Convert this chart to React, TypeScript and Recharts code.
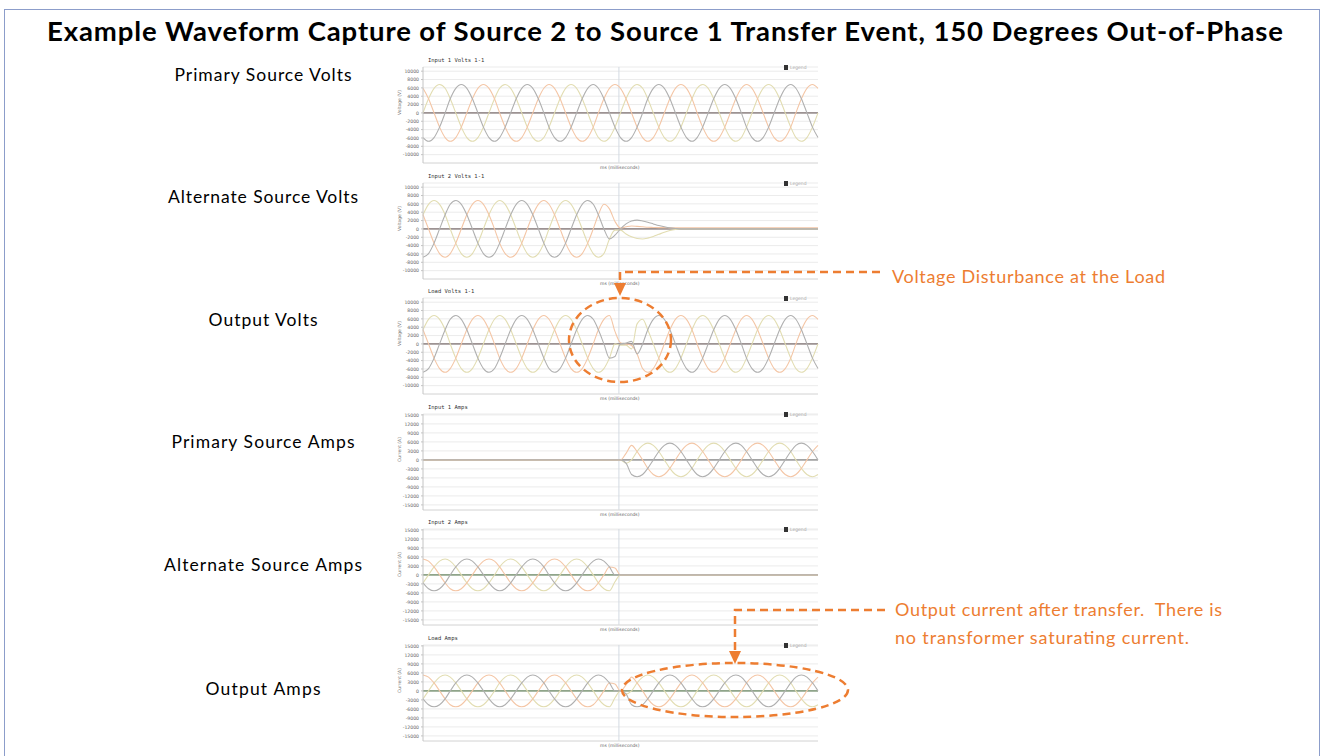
import React from 'react';
import { LineChart, Line, XAxis, YAxis, CartesianGrid, ReferenceLine, Label } from 'recharts';

// sample times, 30 deg steps of a 60 Hz cycle
const timeMs = [
  0, 1.4, 2.8, 4.2, 5.6, 6.9, 8.3, 9.7, 11.1, 12.5, 13.9, 15.3,
  16.7, 18.1, 19.4, 20.8, 22.2, 23.6, 25, 26.4, 27.8, 29.2, 30.6, 31.9,
  33.3, 34.7, 36.1, 37.5, 38.9, 40.3, 41.7, 43.1, 44.4, 45.8, 47.2, 48.6,
  50, 51.4, 52.8, 54.2, 55.6, 56.9, 58.3, 59.7, 61.1, 62.5, 63.9, 65.3,
  66.7, 68.1, 69.4, 70.8, 72.2, 73.6, 75, 76.4, 77.8, 79.2, 80.6, 81.9,
  83.3, 84.7, 86.1, 87.5, 88.9, 90.3, 91.7, 93.1, 94.4, 95.8, 97.2, 98.6,
  100,
];

const transferMs = 49.6;
const voltTicks = [-10000, -8000, -6000, -4000, -2000, 0, 2000, 4000, 6000, 8000, 10000];
const ampTicks = [-15000, -12000, -9000, -6000, -3000, 0, 3000, 6000, 9000, 12000, 15000];

// Input 1 volts
const primaryVoltsA = [
  -5900, -6800, -5900, -3400, 0, 3400, 5900, 6800, 5900, 3400, 0, -3400,
  -5900, -6800, -5900, -3400, 0, 3400, 5900, 6800, 5900, 3400, 0, -3400,
  -5900, -6800, -5900, -3400, 0, 3400, 5900, 6800, 5900, 3400, 0, -3400,
  -5900, -6800, -5900, -3400, 0, 3400, 5900, 6800, 5900, 3400, 0, -3400,
  -5900, -6800, -5900, -3400, 0, 3400, 5900, 6800, 5900, 3400, 0, -3400,
  -5900, -6800, -5900, -3400, 0, 3400, 5900, 6800, 5900, 3400, 0, -3400,
  -5900,
];
const primaryVoltsB = [
  5900, 3400, 0, -3400, -5900, -6800, -5900, -3400, 0, 3400, 5900, 6800,
  5900, 3400, 0, -3400, -5900, -6800, -5900, -3400, 0, 3400, 5900, 6800,
  5900, 3400, 0, -3400, -5900, -6800, -5900, -3400, 0, 3400, 5900, 6800,
  5900, 3400, 0, -3400, -5900, -6800, -5900, -3400, 0, 3400, 5900, 6800,
  5900, 3400, 0, -3400, -5900, -6800, -5900, -3400, 0, 3400, 5900, 6800,
  5900, 3400, 0, -3400, -5900, -6800, -5900, -3400, 0, 3400, 5900, 6800,
  5900,
];
const primaryVoltsC = [
  0, 3400, 5900, 6800, 5900, 3400, 0, -3400, -5900, -6800, -5900, -3400,
  0, 3400, 5900, 6800, 5900, 3400, 0, -3400, -5900, -6800, -5900, -3400,
  0, 3400, 5900, 6800, 5900, 3400, 0, -3400, -5900, -6800, -5900, -3400,
  0, 3400, 5900, 6800, 5900, 3400, 0, -3400, -5900, -6800, -5900, -3400,
  0, 3400, 5900, 6800, 5900, 3400, 0, -3400, -5900, -6800, -5900, -3400,
  0, 3400, 5900, 6800, 5900, 3400, 0, -3400, -5900, -6800, -5900, -3400,
  0,
];

// Input 2 volts
const alternateVoltsA = [
  -6800, -5900, -3400, 0, 3400, 5900, 6800, 5900, 3400, 0, -3400, -5900,
  -6800, -5900, -3400, 0, 3400, 5900, 6800, 5900, 3400, 0, -3400, -5900,
  -6800, -5900, -3400, 0, 3400, 5900, 6800, 5900, 3400, 0, -2400, -1500,
  0, 1200, 1900, 2100, 1900, 1600, 1200, 800, 500, 250, 100, 0,
  0, 0, 0, 0, 0, 0, 0, 0, 0, 0, 0, 0,
  0, 0, 0, 0, 0, 0, 0, 0, 0, 0, 0, 0,
  0,
];
const alternateVoltsB = [
  3400, 0, -3400, -5900, -6800, -5900, -3400, 0, 3400, 5900, 6800, 5900,
  3400, 0, -3400, -5900, -6800, -5900, -3400, 0, 3400, 5900, 6800, 5900,
  3400, 0, -3400, -5900, -6800, -5900, -3400, 0, 3400, 5900, 4800, 1800,
  200, 500, 700, 600, 500, 400, 350, 300, 300, 250, 250, 250,
  250, 250, 250, 250, 250, 250, 250, 250, 250, 250, 250, 250,
  250, 250, 250, 250, 250, 250, 250, 250, 250, 250, 250, 250,
  250,
];
const alternateVoltsC = [
  3400, 5900, 6800, 5900, 3400, 0, -3400, -5900, -6800, -5900, -3400, 0,
  3400, 5900, 6800, 5900, 3400, 0, -3400, -5900, -6800, -5900, -3400, 0,
  3400, 5900, 6800, 5900, 3400, 0, -3400, -5900, -6800, -5900, -2400, -300,
  -300, -1200, -1900, -2300, -2400, -2200, -1800, -1300, -800, -400, -150, 0,
  0, 0, 0, 0, 0, 0, 0, 0, 0, 0, 0, 0,
  0, 0, 0, 0, 0, 0, 0, 0, 0, 0, 0, 0,
  0,
];

// Load volts
const outputVoltsA = [
  -6800, -5900, -3400, 0, 3400, 5900, 6800, 5900, 3400, 0, -3400, -5900,
  -6800, -5900, -3400, 0, 3400, 5900, 6800, 5900, 3400, 0, -3400, -5900,
  -6800, -5900, -3400, 0, 3400, 5900, 6800, 5900, 3400, 0, -3400, -3000,
  0, 200, 600, -2400, 0, 3400, 5900, 6800, 5900, 3400, 0, -3400,
  -5900, -6800, -5900, -3400, 0, 3400, 5900, 6800, 5900, 3400, 0, -3400,
  -5900, -6800, -5900, -3400, 0, 3400, 5900, 6800, 5900, 3400, 0, -3400,
  -5900,
];
const outputVoltsB = [
  3400, 0, -3400, -5900, -6800, -5900, -3400, 0, 3400, 5900, 6800, 5900,
  3400, 0, -3400, -5900, -6800, -5900, -3400, 0, 3400, 5900, 6800, 5900,
  3400, 0, -3400, -5900, -6800, -5900, -3400, 0, 3400, 5900, 6800, 3000,
  300, 0, -400, -2400, -5900, -6800, -5900, -3400, 0, 3400, 5900, 6800,
  5900, 3400, 0, -3400, -5900, -6800, -5900, -3400, 0, 3400, 5900, 6800,
  5900, 3400, 0, -3400, -5900, -6800, -5900, -3400, 0, 3400, 5900, 6800,
  5900,
];
const outputVoltsC = [
  3400, 5900, 6800, 5900, 3400, 0, -3400, -5900, -6800, -5900, -3400, 0,
  3400, 5900, 6800, 5900, 3400, 0, -3400, -5900, -6800, -5900, -3400, 0,
  3400, 5900, 6800, 5900, 3400, 0, -3400, -5900, -6800, -5900, -3400, 0,
  -300, -300, -1200, 4800, 5900, 3400, 0, -3400, -5900, -6800, -5900, -3400,
  0, 3400, 5900, 6800, 5900, 3400, 0, -3400, -5900, -6800, -5900, -3400,
  0, 3400, 5900, 6800, 5900, 3400, 0, -3400, -5900, -6800, -5900, -3400,
  0,
];

// Input 1 amps
const primaryAmpsA = [
  0, 0, 0, 0, 0, 0, 0, 0, 0, 0, 0, 0,
  0, 0, 0, 0, 0, 0, 0, 0, 0, 0, 0, 0,
  0, 0, 0, 0, 0, 0, 0, 0, 0, 0, 0, 0,
  0, -1100, -4850, -5600, -4850, -2800, 0, 2800, 4850, 5600, 4850, 2800,
  0, -2800, -4850, -5600, -4850, -2800, 0, 2800, 4850, 5600, 4850, 2800,
  0, -2800, -4850, -5600, -4850, -2800, 0, 2800, 4850, 5600, 4850, 2800,
  0,
];
const primaryAmpsB = [
  0, 0, 0, 0, 0, 0, 0, 0, 0, 0, 0, 0,
  0, 0, 0, 0, 0, 0, 0, 0, 0, 0, 0, 0,
  0, 0, 0, 0, 0, 0, 0, 0, 0, 0, 0, 0,
  0, 2200, 4850, 2800, 0, -2800, -4850, -5600, -4850, -2800, 0, 2800,
  4850, 5600, 4850, 2800, 0, -2800, -4850, -5600, -4850, -2800, 0, 2800,
  4850, 5600, 4850, 2800, 0, -2800, -4850, -5600, -4850, -2800, 0, 2800,
  4850,
];
const primaryAmpsC = [
  0, 0, 0, 0, 0, 0, 0, 0, 0, 0, 0, 0,
  0, 0, 0, 0, 0, 0, 0, 0, 0, 0, 0, 0,
  0, 0, 0, 0, 0, 0, 0, 0, 0, 0, 0, 0,
  0, -1100, 0, 2800, 4850, 5600, 4850, 2800, 0, -2800, -4850, -5600,
  -4850, -2800, 0, 2800, 4850, 5600, 4850, 2800, 0, -2800, -4850, -5600,
  -4850, -2800, 0, 2800, 4850, 5600, 4850, 2800, 0, -2800, -4850, -5600,
  -4850,
];

// Input 2 amps
const alternateAmpsA = [
  -2650, -4600, -5300, -4600, -2650, 0, 2650, 4600, 5300, 4600, 2650, 0,
  -2650, -4600, -5300, -4600, -2650, 0, 2650, 4600, 5300, 4600, 2650, 0,
  -2650, -4600, -5300, -4600, -2650, 0, 2650, 4600, 5300, 4600, 2650, 0,
  0, 0, 0, 0, 0, 0, 0, 0, 0, 0, 0, 0,
  0, 0, 0, 0, 0, 0, 0, 0, 0, 0, 0, 0,
  0, 0, 0, 0, 0, 0, 0, 0, 0, 0, 0, 0,
  0,
];
const alternateAmpsB = [
  5300, 4600, 2650, 0, -2650, -4600, -5300, -4600, -2650, 0, 2650, 4600,
  5300, 4600, 2650, 0, -2650, -4600, -5300, -4600, -2650, 0, 2650, 4600,
  5300, 4600, 2650, 0, -2650, -4600, -5300, -4600, -2650, 0, 2650, 2300,
  0, 0, 0, 0, 0, 0, 0, 0, 0, 0, 0, 0,
  0, 0, 0, 0, 0, 0, 0, 0, 0, 0, 0, 0,
  0, 0, 0, 0, 0, 0, 0, 0, 0, 0, 0, 0,
  0,
];
const alternateAmpsC = [
  -2650, 0, 2650, 4600, 5300, 4600, 2650, 0, -2650, -4600, -5300, -4600,
  -2650, 0, 2650, 4600, 5300, 4600, 2650, 0, -2650, -4600, -5300, -4600,
  -2650, 0, 2650, 4600, 5300, 4600, 2650, 0, -2650, -4600, -5300, -2300,
  0, 0, 0, 0, 0, 0, 0, 0, 0, 0, 0, 0,
  0, 0, 0, 0, 0, 0, 0, 0, 0, 0, 0, 0,
  0, 0, 0, 0, 0, 0, 0, 0, 0, 0, 0, 0,
  0,
];

// Load amps
const outputAmpsA = [
  -2650, -4600, -5300, -4600, -2650, 0, 2650, 4600, 5300, 4600, 2650, 0,
  -2650, -4600, -5300, -4600, -2650, 0, 2650, 4600, 5300, 4600, 2650, 0,
  -2650, -4600, -5300, -4600, -2650, 0, 2650, 4600, 5300, 4600, 2650, 0,
  0, -1000, -4600, -5300, -4600, -2650, 0, 2650, 4600, 5300, 4600, 2650,
  0, -2650, -4600, -5300, -4600, -2650, 0, 2650, 4600, 5300, 4600, 2650,
  0, -2650, -4600, -5300, -4600, -2650, 0, 2650, 4600, 5300, 4600, 2650,
  0,
];
const outputAmpsB = [
  5300, 4600, 2650, 0, -2650, -4600, -5300, -4600, -2650, 0, 2650, 4600,
  5300, 4600, 2650, 0, -2650, -4600, -5300, -4600, -2650, 0, 2650, 4600,
  5300, 4600, 2650, 0, -2650, -4600, -5300, -4600, -2650, 0, 2650, 2300,
  0, 2000, 4600, 2650, 0, -2650, -4600, -5300, -4600, -2650, 0, 2650,
  4600, 5300, 4600, 2650, 0, -2650, -4600, -5300, -4600, -2650, 0, 2650,
  4600, 5300, 4600, 2650, 0, -2650, -4600, -5300, -4600, -2650, 0, 2650,
  4600,
];
const outputAmpsC = [
  -2650, 0, 2650, 4600, 5300, 4600, 2650, 0, -2650, -4600, -5300, -4600,
  -2650, 0, 2650, 4600, 5300, 4600, 2650, 0, -2650, -4600, -5300, -4600,
  -2650, 0, 2650, 4600, 5300, 4600, 2650, 0, -2650, -4600, -5300, -2300,
  0, -1000, 0, 2650, 4600, 5300, 4600, 2650, 0, -2650, -4600, -5300,
  -4600, -2650, 0, 2650, 4600, 5300, 4600, 2650, 0, -2650, -4600, -5300,
  -4600, -2650, 0, 2650, 4600, 5300, 4600, 2650, 0, -2650, -4600, -5300,
  -4600,
];

const ORANGE = '#ED7D31';

type PanelProps = {
  top: number;
  header: string;
  volts: boolean;
  a: number[];
  b: number[];
  c: number[];
  zeroColor: string;
};

const WavePanel = ({ top, header, volts, a, b, c, zeroColor }: PanelProps) => {
  const rows = timeMs.map((t, i) => ({ t, a: a[i], b: b[i], c: c[i] }));
  return (
    <div style={{ position: 'absolute', left: 395, top, width: 430, height: 118 }}>
      <LineChart width={430} height={118} data={rows} margin={{ top: 12, right: 7, bottom: 0, left: 0 }}>
        <CartesianGrid vertical={false} stroke="#e6e6e6" strokeWidth={0.8} />
        <XAxis
          dataKey="t"
          type="number"
          domain={[0, 100]}
          ticks={[]}
          tick={false}
          tickLine={false}
          height={10}
          axisLine={{ stroke: '#dcdcdc' }}
        />
        <YAxis
          type="number"
          domain={volts ? [-12000, 11000] : [-16700, 15300]}
          ticks={volts ? voltTicks : ampTicks}
          interval={0}
          allowDataOverflow
          width={28}
          tickSize={2}
          tick={{ fontSize: 4.6, fill: '#666', fontFamily: 'DejaVu Sans' }}
          axisLine={{ stroke: '#c4c4c4' }}
          tickLine={{ stroke: '#c4c4c4' }}
        >
          <Label
            value={volts ? 'Voltage (V)' : 'Current (A)'}
            angle={-90}
            position="insideLeft"
            offset={4}
            style={{ fontSize: 4.5, fill: '#777', fontFamily: 'DejaVu Sans' }}
          />
        </YAxis>
        <ReferenceLine x={transferMs} stroke="#d3dae2" strokeWidth={1} />
        <ReferenceLine y={0} stroke={zeroColor} strokeWidth={1.6} />
        <Line type="monotone" dataKey="c" stroke="#e2ddb2" strokeWidth={1.1} dot={false} isAnimationActive={false} />
        <Line type="monotone" dataKey="b" stroke="#f4c6a6" strokeWidth={1.1} dot={false} isAnimationActive={false} />
        <Line type="monotone" dataKey="a" stroke="#b0b0b0" strokeWidth={1.1} dot={false} isAnimationActive={false} />
      </LineChart>
      <div style={{ position: 'absolute', left: 33, top: 2, fontSize: 5.5, fontFamily: 'DejaVu Sans Mono', color: '#333' }}>
        {header}
      </div>
      <div style={{ position: 'absolute', left: 389, top: 10, display: 'flex', alignItems: 'center', gap: 2 }}>
        <span style={{ display: 'inline-block', width: 4, height: 5, background: '#333' }} />
        <span style={{ fontSize: 4.5, color: '#aaa', fontFamily: 'DejaVu Sans' }}>Legend</span>
      </div>
      <div style={{ position: 'absolute', left: 205, top: 110, fontSize: 4.5, fontFamily: 'DejaVu Sans', color: '#666' }}>
        ms (milliseconds)
      </div>
    </div>
  );
};

const sideLabels = [
  { text: 'Primary Source Volts', y: 81, w: 177 },
  { text: 'Alternate Source Volts', y: 203, w: 190 },
  { text: 'Output Volts', y: 326, w: 109 },
  { text: 'Primary Source Amps', y: 448, w: 183 },
  { text: 'Alternate Source Amps', y: 571, w: 198 },
  { text: 'Output Amps', y: 695, w: 115 },
];

export default function App() {
  return (
    <div style={{ position: 'absolute', left: 0, top: 0, width: 1325, height: 756, background: '#fff', overflow: 'hidden' }}>
      <WavePanel top={55} header="Input 1 Volts 1-1" volts a={primaryVoltsA} b={primaryVoltsB} c={primaryVoltsC} zeroColor="#9d9393" />
      <WavePanel top={171} header="Input 2 Volts 1-1" volts a={alternateVoltsA} b={alternateVoltsB} c={alternateVoltsC} zeroColor="#9d9393" />
      <WavePanel top={286} header="Load Volts 1-1" volts a={outputVoltsA} b={outputVoltsB} c={outputVoltsC} zeroColor="#9d9393" />
      <WavePanel top={402} header="Input 1 Amps" volts={false} a={primaryAmpsA} b={primaryAmpsB} c={primaryAmpsC} zeroColor="#a3a3a3" />
      <WavePanel top={517} header="Input 2 Amps" volts={false} a={alternateAmpsA} b={alternateAmpsB} c={alternateAmpsC} zeroColor="#8fa58a" />
      <WavePanel top={633} header="Load Amps" volts={false} a={outputAmpsA} b={outputAmpsB} c={outputAmpsC} zeroColor="#8fa58a" />

      <svg width={1325} height={756} style={{ position: 'absolute', left: 0, top: 0, pointerEvents: 'none' }}>
        <rect x={4.5} y={9.5} width={1315} height={800} fill="none" stroke="#8c9dca" strokeWidth={1} />
        <text x={665} y={41} textAnchor="middle" fontFamily="Lato" fontWeight={700} fontSize={27.5} fill="#000" textLength={1236}>
          Example Waveform Capture of Source 2 to Source 1 Transfer Event, 150 Degrees Out-of-Phase
        </text>
        {sideLabels.map((l) => (
          <text key={l.text} x={263} y={l.y} textAnchor="middle" fontFamily="Lato" fontSize={17.5} fill="#000" textLength={l.w}>
            {l.text}
          </text>
        ))}

        <g stroke={ORANGE} strokeWidth={2.5} fill="none" strokeDasharray="8 5">
          <path d="M 880 272 L 620 272 L 620 284" />
          <ellipse cx={620} cy={340} rx={51} ry={42} />
          <path d="M 885 610 L 735 610 L 735 652" />
          <ellipse cx={735} cy={690} rx={113} ry={27} />
        </g>
        <polygon points="614,283 626,283 620,296" fill={ORANGE} />
        <polygon points="729,651 741,651 735,664" fill={ORANGE} />
        <text x={892} y={283} fontFamily="Lato" fontSize={18} fill={ORANGE} textLength={273}>
          Voltage Disturbance at the Load
        </text>
        <text x={895} y={616} fontFamily="Lato" fontSize={18} fill={ORANGE} textLength={327} style={{ whiteSpace: 'pre' }}>
          {'Output current after transfer.  There is'}
        </text>
        <text x={895} y={644} fontFamily="Lato" fontSize={18} fill={ORANGE} textLength={294}>
          no transformer saturating current.
        </text>
      </svg>
    </div>
  );
}
